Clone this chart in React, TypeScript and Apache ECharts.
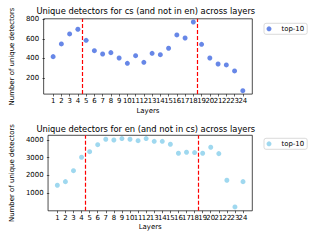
import React, { useEffect, useRef } from "react";
import * as echarts from "echarts";

const layers = Array.from({ length: 24 }, (_, i) => i + 1);
const csValues = [418, 548, 650, 698, 585, 479, 445, 459, 404, 350, 428, 360, 452, 438, 504, 640, 609, 772, 544, 404, 343, 333, 272, 70];
const enValues = [1448, 1651, 2270, 3025, 3341, 3735, 4040, 4000, 4080, 4039, 3961, 4080, 3925, 3925, 3758, 3250, 3307, 3288, 3250, 3589, 3230, 1730, 225, 1651];
const csTicks = [200, 400, 600, 800];
const enTicks = [1000, 2000, 3000, 4000];
const boundaries = [4.5, 18.5];
const titles = [
  "Unique detectors for cs (and not in en) across layers",
  "Unique detectors for en (and not in cs) across layers",
];
const legendName = "top-10";

const FONT = "DejaVu Sans";

export default function App() {
  const ref = useRef<HTMLDivElement>(null);
  useEffect(() => {
    if (!ref.current) return;
    const chart = echarts.init(ref.current, null, { renderer: "svg" });
    const gridLeft = 39.3;
    const gridRight = 320 - 252.3;
    const grids = [
      { left: gridLeft, right: gridRight, top: 18.8, height: 75.3 },
      { left: gridLeft, right: gridRight, top: 135.3, height: 75.5 },
    ];
    const oddLayers = layers.filter((l) => l % 2 === 1);
    const evenLayers = layers.filter((l) => l % 2 === 0);
    const labelStyle = {
      show: true,
      fontFamily: FONT,
      fontSize: 6.94,
      color: "#000",
      margin: 3.5,
      showMinLabel: true,
      showMaxLabel: true,
      formatter: (v: number) => String(v),
    };
    const xAxisMain = (gi: number, gap: number) => ({
      type: "value" as const,
      gridIndex: gi,
      position: "bottom" as const,
      min: -0.15,
      max: 25.15,
      name: "Layers",
      nameLocation: "middle" as const,
      nameGap: gap,
      nameTextStyle: { fontFamily: FONT, fontSize: 6.94, color: "#000" },
      axisLine: { show: false },
      splitLine: { show: false },
      axisTick: { show: true, length: 2.4, lineStyle: { color: "#000", width: 0.6 }, customValues: layers },
      axisLabel: { ...labelStyle, customValues: oddLayers },
    });
    const xAxisEven = (gi: number) => ({
      type: "value" as const,
      gridIndex: gi,
      position: "bottom" as const,
      min: -0.15,
      max: 25.15,
      axisLine: { show: false },
      splitLine: { show: false },
      axisTick: { show: false },
      axisLabel: { ...labelStyle, customValues: evenLayers },
    });
    const yAxisBase = (gi: number, min: number, max: number, ticks: number[], gap: number) => ({
      type: "value" as const,
      gridIndex: gi,
      min,
      max,
      name: "Number of unique detectors",
      nameLocation: "middle" as const,
      nameGap: gap,
      nameTextStyle: { fontFamily: FONT, fontSize: 6.94, color: "#000" },
      axisLine: { show: false },
      splitLine: { show: false },
      axisTick: { show: true, length: 2.4, lineStyle: { color: "#000", width: 0.6 }, customValues: ticks },
      axisLabel: {
        show: true,
        fontFamily: FONT,
        fontSize: 6.94,
        color: "#000",
        margin: 4.5,
        customValues: ticks,
        showMinLabel: true,
        showMaxLabel: true,
        formatter: (v: number) => String(v),
      },
    });
    const markLine = {
      silent: true,
      symbol: ["none", "none"],
      label: { show: false },
      emphasis: { disabled: true },
      lineStyle: { color: "#ff0000", type: [4, 2], width: 1.2, opacity: 1 },
      data: boundaries.map((b) => ({ xAxis: b })),
    };
    const legendBase = (top: number, color: string) => ({
      left: 264,
      top,
      orient: "vertical" as const,
      padding: [2, 3, 2, 2.5],
      itemWidth: 15,
      itemHeight: 5,
      borderColor: "#cccccc",
      borderWidth: 0.7,
      borderRadius: 2,
      backgroundColor: "rgba(255,255,255,0.8)",
      textStyle: { fontFamily: FONT, fontSize: 6.94, color: "#000" },
      data: [{ name: legendName, icon: "circle", itemStyle: { color } }],
    });
    chart.setOption({
      animation: false,
      grid: grids.map((g) => ({ ...g, show: true, borderColor: "#000", borderWidth: 0.7, backgroundColor: "transparent" })),
      title: [
        { text: titles[0], left: 145.8, top: 6.4, padding: 0, textAlign: "center", textStyle: { fontFamily: FONT, fontSize: 8.33, fontWeight: "normal", color: "#000", lineHeight: 10 } },
        { text: titles[1], left: 145.8, top: 124.3, padding: 0, textAlign: "center", textStyle: { fontFamily: FONT, fontSize: 8.33, fontWeight: "normal", color: "#000", lineHeight: 10 } },
      ],
      legend: [legendBase(23.3, "#4169E1"), legendBase(138.3, "#87CEEB")],
      xAxis: [xAxisMain(0, 13), xAxisMain(1, 13), xAxisEven(0), xAxisEven(1)],
      yAxis: [yAxisBase(0, 35, 805, csTicks, 21), yAxisBase(1, 7, 4263, enTicks, 25)],
      series: [
        {
          type: "scatter",
          name: legendName,
          xAxisIndex: 0,
          yAxisIndex: 0,
          symbolSize: 5,
          itemStyle: { color: "#4169E1" },
          data: layers.map((l, i) => [l, csValues[i]]),
          markLine,
        },
        {
          type: "scatter",
          name: legendName,
          xAxisIndex: 1,
          yAxisIndex: 1,
          symbolSize: 5,
          itemStyle: { color: "#87CEEB" },
          data: layers.map((l, i) => [l, enValues[i]]),
          markLine,
        },
      ],
    });
    return () => chart.dispose();
  }, []);
  return <div ref={ref} style={{ position: "fixed", left: 0, top: 0, width: 320, height: 240, background: "#fff" }} />;
}
